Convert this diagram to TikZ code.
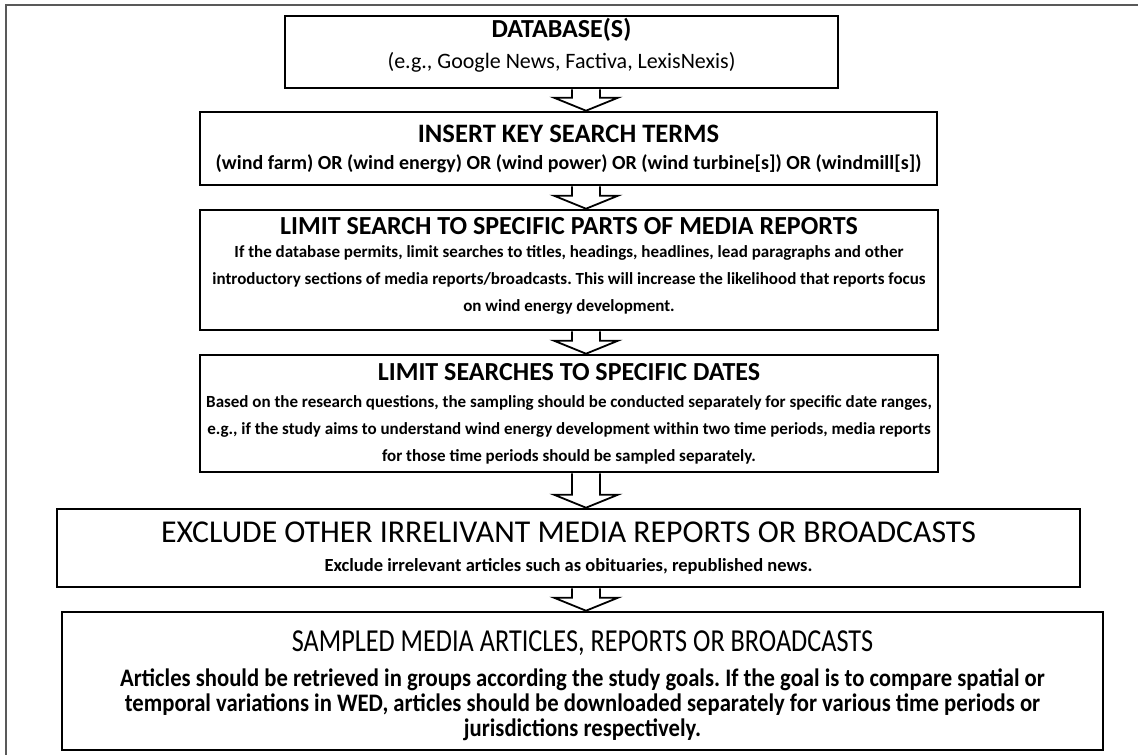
\documentclass[tikz,border=0pt]{standalone}
\usepackage{fontspec}
\setmainfont{Carlito}
\newfontfamily\narrowfont[FakeStretch=0.82]{Carlito}
\newfontfamily\slimfont[FakeStretch=0.9]{Carlito}
\usetikzlibrary{calc}
\frenchspacing

\begin{document}
\begin{tikzpicture}[x=0.5pt,y=-0.5pt,
 stage/.style={draw,line width=1.3pt,align=center,inner sep=0pt,
   font=\fontsize{8.5}{13.5}\selectfont\bfseries},
 flow/.style={draw,line width=0.9pt,line join=miter}]
\useasboundingbox (0,0) rectangle (1138,755);
\draw[black!65,line width=1pt] (1138,5) -- (6,5) -- (6,755);
\coordinate (axis) at (586,0);
\node[stage,minimum width=276.5pt,minimum height=36pt] (db) at (561.5,52)
  {{\fontsize{13}{15}\selectfont DATABASE(S)}\\[2pt]
   \mdseries\fontsize{11}{13.5}\selectfont (e.g., Google News, Factiva, LexisNexis)\rule[-8.2pt]{0pt}{0pt}};
\node[stage,minimum width=368.5pt,minimum height=36.5pt,
  font=\fontsize{10}{13.5}\selectfont\bfseries] (terms) at (568.5,148.5)
  {{\fontsize{13.3}{15}\selectfont INSERT KEY SEARCH TERMS}\\
   (wind farm) OR (wind energy) OR (wind power) OR (wind turbine[s]) OR (windmill[s])};
\node[stage,minimum width=369pt,minimum height=60pt] (parts) at (569,270)
  {{\fontsize{13}{15}\selectfont LIMIT SEARCH TO SPECIFIC PARTS OF MEDIA REPORTS}\\[-2pt]
   If the database permits, limit searches to titles, headings, headlines, lead paragraphs and other\\
   introductory sections of media reports/broadcasts. This will increase the likelihood that reports focus\\
   on wind energy development.\rule[-6pt]{0pt}{0pt}};
\node[stage,minimum width=369pt,minimum height=58.5pt] (dates) at (569,413.5)
  {{\fontsize{13}{15}\selectfont LIMIT SEARCHES TO SPECIFIC DATES}\\
   Based on the research questions, the sampling should be conducted separately for specific date ranges,\\
   e.g., if the study aims to understand wind energy development within two time periods, media reports\\
   for those time periods should be sampled separately.};
\node[stage,minimum width=511.5pt,minimum height=39pt,
  font=\fontsize{9.25}{13.5}\selectfont\bfseries] (excl) at (568.5,548)
  {{\fontsize{15.9}{17}\selectfont\mdseries EXCLUDE OTHER IRRELIVANT MEDIA REPORTS OR BROADCASTS}\\[1pt]
   Exclude irrelevant articles such as obituaries, republished news.};
\node[stage,minimum width=520.5pt,minimum height=69pt,
  font=\slimfont\fontsize{12.6}{12.5}\selectfont\bfseries] (sampled) at (582.5,681)
  {{\narrowfont\fontsize{16}{17}\selectfont\mdseries\rule{0pt}{15.3pt}SAMPLED MEDIA ARTICLES, REPORTS OR BROADCASTS}\\[5pt]
   Articles should be retrieved in groups according the study goals. If the goal is to compare spatial or\\
   temporal variations in WED, articles should be downloaded separately for various time periods or\\
   jurisdictions respectively.};
\foreach \a/\b in {db/terms,terms/parts,parts/dates,dates/excl,excl/sampled}
  \draw[flow] ($(\a.south -| axis)+(-14,0)$) -- ($(\b.north -| axis)+(-14,-13)$)
    -- ($(\b.north -| axis)+(-32,-13)$) -- (\b.north -| axis)
    -- ($(\b.north -| axis)+(32,-13)$) -- ($(\b.north -| axis)+(14,-13)$)
    -- ($(\a.south -| axis)+(14,0)$);
\end{tikzpicture}
\end{document}
